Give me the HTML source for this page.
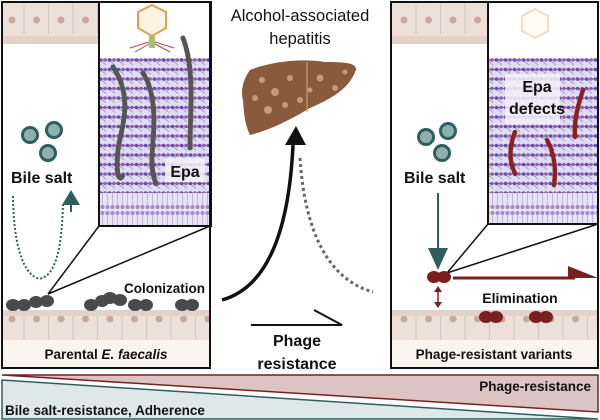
<!DOCTYPE html>
<html><head><meta charset="utf-8"><style>
body{margin:0;background:#fff}
svg{display:block;font-family:"Liberation Sans",sans-serif}
</style></head><body>
<svg width="600" height="420" viewBox="0 0 600 420">
<defs>
<pattern id="lat" x="0" y="0" width="9" height="9.5" patternUnits="userSpaceOnUse">
<rect width="9" height="9.5" fill="#e1ddf0"/>
<line x1="0" y1="3" x2="9" y2="3" stroke="#6f64b8" stroke-width="1.2"/>
<line x1="1" y1="3" x2="7" y2="8" stroke="#8f84c4" stroke-width="0.8"/>
<circle cx="1.5" cy="3" r="1.8" fill="#5f53b0"/>
<circle cx="6" cy="3" r="1.8" fill="#9a5cab"/>
</pattern>
<pattern id="mem" x="0" y="0" width="5" height="30" patternUnits="userSpaceOnUse">
<rect width="5" height="30" fill="#e7e3f2"/>
<circle cx="2.5" cy="3" r="2" fill="#a38acc"/>
<line x1="2.5" y1="4" x2="2.5" y2="26" stroke="#b8a8d8" stroke-width="0.8"/>
<circle cx="2.5" cy="27" r="2" fill="#a38acc"/>
</pattern>
<pattern id="epi" x="0" y="0" width="24.5" height="44" patternUnits="userSpaceOnUse">
<rect width="24.5" height="44" fill="#ece0d9"/>
<line x1="24" y1="0" x2="24" y2="34" stroke="#d8c6bc" stroke-width="1"/>
<circle cx="12" cy="20" r="3.5" fill="#c9a99c"/>
</pattern>
<pattern id="epib" x="0" y="0" width="24.5" height="30" patternUnits="userSpaceOnUse">
<rect width="24.5" height="30" fill="#ece0d9"/>
<line x1="24" y1="0" x2="24" y2="30" stroke="#d8c6bc" stroke-width="1"/>
<circle cx="12" cy="19" r="3.5" fill="#c9a99c"/>
</pattern>
</defs>

<!-- LEFT PANEL -->
<rect x="2" y="2" width="208" height="366" fill="#fff"/>
<rect x="2" y="2" width="97" height="42" fill="url(#epi)"/>
<rect x="2" y="36" width="97" height="8" fill="#e3d2c9"/>
<rect x="2" y="310" width="208" height="30" fill="url(#epib)"/>
<rect x="2" y="310" width="208" height="6" fill="#e3d2c9"/>
<rect x="2" y="340" width="208" height="28" fill="#faf4ef"/>
<text x="106" y="359" font-size="13.5" font-weight="bold" text-anchor="middle" fill="#111">Parental <tspan font-style="italic">E. faecalis</tspan></text>
<circle cx="30" cy="135" r="7.5" fill="#8fb1ae" stroke="#2f5f5c" stroke-width="3"/>
<circle cx="54" cy="130" r="7.5" fill="#8fb1ae" stroke="#2f5f5c" stroke-width="3"/>
<circle cx="48" cy="153" r="7.5" fill="#8fb1ae" stroke="#2f5f5c" stroke-width="3"/>
<text x="11" y="183" font-size="16" font-weight="bold" fill="#111">Bile salt</text>
<path d="M13,196 C14,280 40,280 42,278 C60,272 62,230 63,205" fill="none" stroke="#2f5f5c" stroke-width="2" stroke-dasharray="2,2"/>
<polygon points="71,190 62,205 80,205" fill="#2f5f5c"/>
<line x1="71" y1="204" x2="71" y2="212" stroke="#2f5f5c" stroke-width="2"/>
<line x1="99" y1="226" x2="48" y2="294" stroke="#111" stroke-width="1.5"/>
<line x1="210" y1="226" x2="48" y2="294" stroke="#111" stroke-width="1.5"/>
<text x="205" y="293" font-size="13.5" font-weight="bold" text-anchor="end" fill="#111">Colonization</text>
<g fill="#4a4a4a">
<ellipse cx="13" cy="305" rx="7" ry="6"/><ellipse cx="24" cy="305" rx="7" ry="6"/><ellipse cx="36" cy="302" rx="7" ry="6"/><ellipse cx="47" cy="301" rx="7" ry="6"/>
<ellipse cx="91" cy="305" rx="7" ry="6"/><ellipse cx="102" cy="301" rx="7" ry="6"/><ellipse cx="110" cy="298" rx="7" ry="6"/><ellipse cx="120" cy="300" rx="7" ry="6"/>
<ellipse cx="135" cy="305" rx="7" ry="6"/><ellipse cx="146" cy="305" rx="7" ry="6"/>
<ellipse cx="182" cy="305" rx="7" ry="6"/><ellipse cx="192" cy="305" rx="7" ry="6"/>
</g>
<!-- left inset -->
<rect x="99" y="2" width="112" height="224" fill="#fff"/>
<rect x="100" y="58" width="110" height="135" fill="url(#lat)"/>
<rect x="100" y="193" width="110" height="32" fill="url(#mem)"/>
<polygon points="152,5 166,12 166,28 152,36 138,28 138,12" fill="#fdf3e3" stroke="#e0a050" stroke-width="2"/>
<rect x="149" y="36" width="6" height="12" fill="#a8c070"/>
<path d="M149,42 L130,48 M155,42 L174,48 M149,44 L135,52 M155,44 L170,52" stroke="#a05050" stroke-width="1"/>
<g fill="none" stroke-width="5" stroke-linecap="round" stroke-dasharray="3,2.5">
<path d="M113,67 C135,100 120,130 118,150 C116,170 118,185 123,175" stroke="#555"/>
<path d="M143,73 C160,100 152,140 152,160 C152,175 155,180 156,184" stroke="#555"/>
<path d="M183,38 C195,70 190,110 190,148" stroke="#555"/>
</g>
<rect x="165" y="158" width="40" height="24" fill="#f3f1f8" opacity="0.85"/>
<text x="185" y="177" font-size="16" font-weight="bold" text-anchor="middle" fill="#111">Epa</text>
<rect x="99" y="2" width="112" height="224" fill="none" stroke="#111" stroke-width="2"/>
<rect x="2" y="2" width="208" height="366" fill="none" stroke="#111" stroke-width="2"/>

<!-- CENTER -->
<text x="300" y="21" font-size="16.5" text-anchor="middle" fill="#111">Alcohol-associated</text>
<text x="300" y="44" font-size="16.5" text-anchor="middle" fill="#111">hepatitis</text>
<path d="M250,70 C270,62 300,58 325,62 C345,62 357,63 356,70 C350,85 340,95 310,108 C290,120 270,130 250,135 C245,125 244,115 243,100 C240,90 244,78 250,70 Z" fill="#8a5a3c"/>
<g fill="#c59a74">
<circle cx="262" cy="80" r="3"/><circle cx="275" cy="92" r="4"/><circle cx="290" cy="78" r="3"/><circle cx="268" cy="110" r="4"/><circle cx="300" cy="100" r="3"/><circle cx="320" cy="78" r="3.5"/><circle cx="335" cy="88" r="3"/><circle cx="285" cy="105" r="3"/><circle cx="255" cy="98" r="3"/><circle cx="310" cy="90" r="2.5"/><circle cx="345" cy="72" r="2.5"/>
</g>
<line x1="307" y1="62" x2="307" y2="112" stroke="#d0a878" stroke-width="1"/>
<path d="M222,300 C258,290 288,250 293,145" fill="none" stroke="#111" stroke-width="3.5"/>
<polygon points="296,126 285,145 306,145" fill="#111"/>
<path d="M300,158 C305,235 330,280 373,292" fill="none" stroke="#666" stroke-width="3" stroke-dasharray="3,3"/>
<path d="M251,325 L342,325 L314,310" fill="none" stroke="#111" stroke-width="2"/>
<text x="297" y="346" font-size="16" font-weight="bold" text-anchor="middle" fill="#111">Phage</text>
<text x="297" y="369" font-size="16" font-weight="bold" text-anchor="middle" fill="#111">resistance</text>

<!-- RIGHT PANEL -->
<rect x="391" y="2" width="207" height="366" fill="#fff"/>
<rect x="391" y="2" width="97" height="42" fill="url(#epi)"/>
<rect x="391" y="36" width="97" height="8" fill="#e3d2c9"/>
<rect x="391" y="310" width="207" height="30" fill="url(#epib)"/>
<rect x="391" y="310" width="207" height="6" fill="#e3d2c9"/>
<rect x="391" y="340" width="207" height="28" fill="#faf4ef"/>
<text x="494" y="359" font-size="13.5" font-weight="bold" text-anchor="middle" fill="#111">Phage-resistant variants</text>
<circle cx="426" cy="137" r="7.5" fill="#8fb1ae" stroke="#2f5f5c" stroke-width="3"/>
<circle cx="448" cy="131" r="7.5" fill="#8fb1ae" stroke="#2f5f5c" stroke-width="3"/>
<circle cx="442" cy="153" r="7.5" fill="#8fb1ae" stroke="#2f5f5c" stroke-width="3"/>
<text x="404" y="183" font-size="16" font-weight="bold" fill="#111">Bile salt</text>
<line x1="438" y1="193" x2="438" y2="250" stroke="#2f5f5c" stroke-width="2"/>
<polygon points="428,248 448,248 438,270" fill="#2f5f5c"/>
<line x1="488" y1="224" x2="447" y2="273" stroke="#111" stroke-width="1.5"/>
<line x1="598" y1="224" x2="447" y2="273" stroke="#111" stroke-width="1.5"/>
<ellipse cx="434" cy="277" rx="7" ry="6" fill="#7a1f1f"/><ellipse cx="444" cy="277" rx="7" ry="6" fill="#7a1f1f"/>
<line x1="453" y1="278" x2="575" y2="278" stroke="#7a1f1f" stroke-width="3"/>
<polygon points="568,266 598,278 568,278" fill="#7a1f1f"/>
<line x1="438" y1="288" x2="438" y2="306" stroke="#7a1f1f" stroke-width="1.5"/>
<polygon points="434,292 442,292 438,286" fill="#7a1f1f"/><polygon points="434,302 442,302 438,308" fill="#7a1f1f"/>
<text x="520" y="303" font-size="14" font-weight="bold" text-anchor="middle" fill="#111">Elimination</text>
<ellipse cx="486" cy="317" rx="7" ry="6" fill="#7a1f1f"/><ellipse cx="496" cy="317" rx="7" ry="6" fill="#7a1f1f"/>
<ellipse cx="536" cy="317" rx="7" ry="6" fill="#7a1f1f"/><ellipse cx="546" cy="317" rx="7" ry="6" fill="#7a1f1f"/>
<!-- right inset -->
<rect x="488" y="2" width="110" height="222" fill="#fff"/>
<rect x="489" y="58" width="108" height="135" fill="url(#lat)"/>
<rect x="489" y="193" width="108" height="30" fill="url(#mem)"/>
<polygon points="535,9 548,16 548,31 535,38 522,31 522,16" fill="#fffaf2" stroke="#f2dcc0" stroke-width="2"/>
<rect x="505" y="74" width="55" height="50" fill="#f3f1f8" opacity="0.85"/>
<text x="537" y="92" font-size="16" font-weight="bold" text-anchor="middle" fill="#111">Epa</text>
<text x="537" y="114" font-size="16" font-weight="bold" text-anchor="middle" fill="#111">defects</text>
<g fill="none" stroke="#8b2020" stroke-width="4.5" stroke-linecap="round" stroke-dasharray="3,2">
<path d="M583,90 C578,105 574,120 575,137"/>
<path d="M515,132 C508,150 510,165 516,175"/>
<path d="M547,140 C555,155 556,170 554,185"/>
</g>
<rect x="488" y="2" width="110" height="222" fill="none" stroke="#111" stroke-width="2"/>
<rect x="391" y="2" width="207" height="366" fill="none" stroke="#111" stroke-width="2"/>

<!-- BOTTOM GRADIENT BARS -->
<polygon points="2,375 598,375 598,412" fill="#dcc4c4" stroke="#7a1f1f" stroke-width="1.5"/>
<polygon points="2,380 598,419 2,419" fill="#dfe8e8" stroke="#2f5f5c" stroke-width="1.5"/>
<text x="591" y="391" font-size="13.5" font-weight="bold" text-anchor="end" fill="#111">Phage-resistance</text>
<text x="5" y="415" font-size="13.5" font-weight="bold" fill="#111">Bile salt-resistance, Adherence</text>
</svg>
</body></html>
